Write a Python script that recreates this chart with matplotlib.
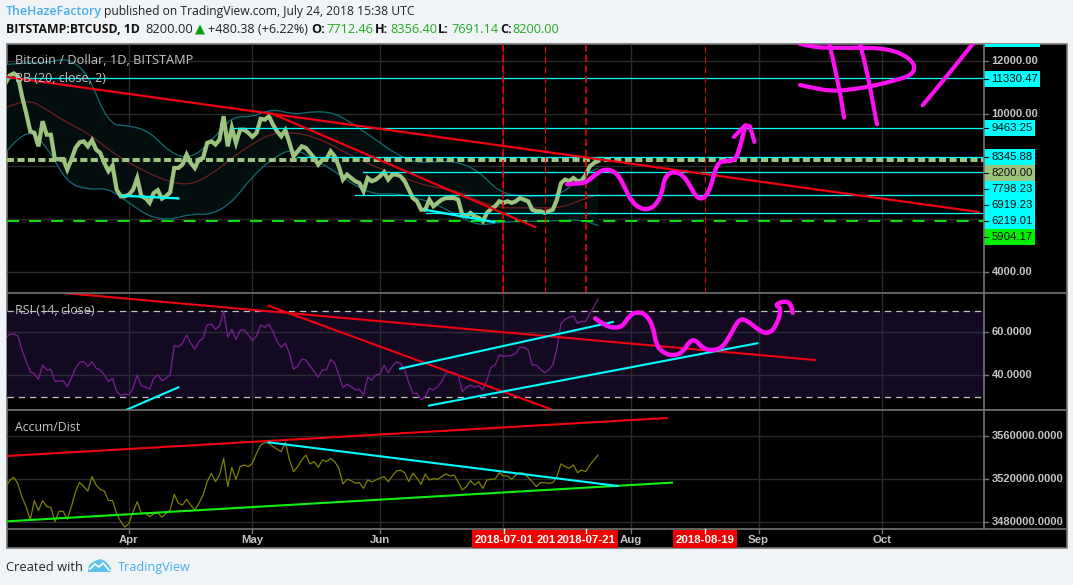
import numpy as np
import pandas as pd
import matplotlib
matplotlib.use("Agg")
from matplotlib import pyplot as plt
from matplotlib.patches import Rectangle, Polygon, PathPatch
from matplotlib.path import Path

W = 1073
H = 585

plt.rcParams['font.family'] = ['Liberation Sans', 'DejaVu Sans']

# daily values, 2018-03-02 .. 2018-07-24
close = [11160, 11440, 11520, 11410, 10660, 10030, 9330, 9270, 8760, 9710,
         9200, 9200, 8260, 8280, 8280, 7880, 8260, 8700, 8910, 8950,
         8760, 8990, 8640, 8510, 8130, 7820, 8030, 7120, 6870, 6870,
         6930, 7120, 7560, 6870, 6800, 6620, 6990, 7100, 6780, 6870,
         7020, 7940, 7940, 8070, 8450, 8130, 7940, 8260, 8320, 8890,
         8950, 8830, 9010, 9900, 8760, 9460, 8890, 9390, 9390, 9270,
         9120, 9270, 9800, 9770, 9900, 9580, 9330, 9140, 9370, 8890,
         8380, 8570, 8760, 8700, 8510, 8320, 8070, 8260, 8280, 8570,
         8380, 8000, 7500, 7690, 7560, 7440, 7370, 7060, 7560, 7440,
         7500, 7630, 7780, 7500, 7690,
         7690, 7630, 7440, 7120, 6800, 6680, 6360, 6360, 6740, 6490,
         6620, 6740, 6800, 6800, 6800, 6740, 6170, 6110, 6240, 6110,
         6050, 5920, 6240, 6390, 6490, 6680, 6620, 6680, 6620, 6680,
         6800, 6740, 6680, 6360, 6300, 6300, 6240, 6300, 6360, 6740,
         7370, 7500, 7440, 7560, 7440, 7440, 7690, 8000, 8130, 8200]

rsi = [57.2, 59.1, 59.2, 58.3, 51.8, 46.4, 41.7, 40.7, 38.1, 44.8,
       42.5, 42.8, 37.1, 37.4, 37.4, 34.7, 38.6, 43.3, 46.0, 46.4,
       44.0, 46.4, 43.3, 42.5, 40.2, 37.1, 38.6, 32.4, 30.7, 31.3,
       30.9, 34.0, 40.2, 35.0, 34.7, 33.5, 38.6, 40.2, 37.5, 38.6,
       40.2, 53.8, 53.3, 54.9, 58.8, 54.9, 52.1, 55.7, 57.2, 63.4,
       63.9, 61.4, 62.9, 69.9, 57.7, 61.4, 56.7, 60.8, 61.1, 58.8,
       56.1, 58.3, 63.4, 62.3, 63.7, 60.3, 55.7, 53.0, 54.9, 50.2,
       42.8, 44.3, 47.6, 47.1, 44.3, 41.7, 39.1, 42.5, 42.5, 47.4,
       45.6, 40.2, 34.3, 35.8, 34.7, 33.2, 33.5, 30.7, 39.1, 37.8,
       40.2, 40.6, 44.8, 41.2, 44.3,
       46.2, 45.6, 42.5, 36.6, 31.6, 31.6, 28.5, 30.1, 34.0, 33.2,
       34.7, 37.1, 40.9, 41.4, 41.2, 40.2, 32.4, 34.3, 35.5, 34.4,
       35.2, 33.2, 37.8, 43.7, 44.8, 49.5, 48.7, 49.1, 49.1, 50.2,
       53.0, 53.0, 51.8, 44.8, 44.8, 42.8, 41.2, 42.5, 44.8, 52.6,
       64.2, 66.0, 67.0, 67.6, 64.2, 65.1, 65.0, 68.8, 71.9, 75.5]

# accum/dist in thousands
accdist = [3512.6, 3518.8, 3521.9, 3515.7, 3503.3, 3494.6, 3482.2, 3500.2, 3490.9, 3500.2,
           3494.6, 3494.0, 3480.6, 3490.2, 3490.2, 3482.8, 3494.6, 3508.5, 3517.2, 3513.2,
           3509.1, 3522.5, 3514.7, 3510.7, 3509.1, 3500.2, 3500.2, 3487.8, 3480.6, 3475.4,
           3479.1, 3489.9, 3499.2, 3488.4, 3488.4, 3485.3, 3487.8, 3489.0, 3484.7, 3488.4,
           3491.5, 3506.0, 3497.7, 3496.1, 3501.4, 3496.1, 3491.5, 3497.7, 3505.4, 3517.8,
           3525.6, 3517.8, 3524.0, 3539.5, 3513.2, 3530.9, 3520.0, 3531.8, 3533.3, 3531.8,
           3534.9, 3544.2, 3551.9, 3554.1, 3553.5, 3550.4, 3547.9, 3545.7, 3554.4, 3538.0,
           3527.1, 3531.8, 3538.0, 3542.6, 3534.3, 3536.4, 3531.2, 3538.0, 3536.4, 3539.5,
           3536.4, 3530.2, 3515.7, 3520.0, 3518.8, 3516.3, 3516.9, 3511.6, 3519.4, 3517.5,
           3519.4, 3520.9, 3522.5, 3517.8, 3523.1,
           3527.8, 3528.4, 3526.2, 3517.8, 3525.6, 3520.9, 3515.3, 3525.0, 3519.4, 3520.6,
           3520.0, 3522.5, 3525.0, 3523.1, 3524.0, 3517.8, 3510.1, 3513.2, 3518.8, 3514.7,
           3517.8, 3511.6, 3519.4, 3520.0, 3520.3, 3526.2, 3523.1, 3523.1, 3520.0, 3524.0,
           3526.2, 3525.6, 3521.9, 3517.8, 3513.2, 3516.9, 3516.9, 3516.3, 3516.9, 3522.5,
           3534.3, 3531.8, 3530.2, 3533.3, 3526.2, 3528.7, 3527.1, 3533.3, 3538.0, 3542.6]

# bollinger bands, every 5 days and the last day
bb_days = [-30, -25, -20, -15, -10, -5, 0, 5, 10, 15, 20, 25, 30, 35, 40, 45, 50, 55, 60, 65,
           70, 75, 80, 85, 90, 95, 100, 105, 110, 114]
bb_upper = [11860, 11920, 11920, 12110, 11540, 9580, 9550, 9330, 8510, 8280,
            8950, 9900, 9870, 10190, 9960, 10090, 10030, 9550, 9010, 8450,
            8130, 8190, 8170, 7820, 7020, 6870, 6870, 6930, 7630, 7940]
bb_lower = [8510, 9520, 8760, 7370, 7120, 7180, 6620, 6080, 5980, 6200,
            6170, 6620, 7630, 8320, 8700, 8260, 7820, 7250, 6930, 6990,
            6800, 6550, 6110, 5760, 5880, 5920, 5920, 5960, 5980, 5760]
bb_basis = [10210, 10590, 10150, 9650, 9270, 8640, 8130, 7730, 7400, 7300,
            7690, 8320, 8860, 9270, 9290, 9120, 8760, 8320, 7980, 7690,
            7370, 7180, 7060, 6680, 6430, 6430, 6430, 6430, 6740, 6930]

price_ticks = [4000, 6000, 8000, 10000, 12000]
rsi_ticks = [40, 60]
ad_ticks = [3480, 3520, 3560]
months = ['2018-04-01', '2018-05-01', '2018-06-01', '2018-07-01',
          '2018-08-01', '2018-09-01', '2018-10-01']
month_labels = ['Apr', 'May', 'Jun', None, 'Aug', 'Sep', 'Oct']
marked_dates = ['2018-07-01', '2018-07-11', '2018-07-21', '2018-08-19']

# horizontal drawings: level, first day
cyan_levels = [11330.47, 9463.25, 8345.88, 7798.23, 6919.23, 6219.01]
cyan_starts = [-29.6, 25.1, 40.8, 56.8, 54.9, 72.2]
last_level = 8231
support_level = 5920

# trend lines, days since Apr 1
red_a_days = [-29.6, 206.5]
red_a_vals = [11386, 6273]
red_b_days = [35.0, 98.7]
red_b_vals = [9985, 5705]
cyan_a_days = [-1.7, 12.0]
cyan_a_vals = [6890, 6790]
cyan_b_days = [72.2, 88.7]
cyan_b_vals = [6348, 5894]

rsi_red_a_days = [-14.8, 166.8]
rsi_red_a_vals = [78.1, 47.1]
rsi_red_b_days = [33.9, 102.6]
rsi_red_b_vals = [72.4, 24.2]
rsi_cyan_a_days = [-0.7, 12.0]
rsi_cyan_a_vals = [23.9, 34.4]
rsi_cyan_b_days = [65.9, 117.6]
rsi_cyan_b_vals = [43.1, 64.8]
rsi_cyan_c_days = [72.9, 152.7]
rsi_cyan_c_vals = [25.9, 54.9]

ad_red_days = [-29.6, 130.7]
ad_red_vals = [3541.7, 3577.0]
ad_cyan_days = [33.9, 118.8]
ad_cyan_vals = [3554.4, 3513.8]
ad_green_days = [-29.6, 132.0]
ad_green_vals = [3480.9, 3516.9]

# magenta pen strokes
pen_days = [106.5, 108.6, 110.7, 112.3, 113.8, 115.4, 117.5, 119.1, 120.6, 122.2,
            124.3, 126.4, 128.4, 129.7, 130.0, 131.1, 132.6, 134.7, 136.3, 137.8,
            139.4, 141.0, 142.0, 143.0, 144.6, 147.2, 148.3, 149.3, 149.8]
pen_vals = [7325, 7350, 7375, 7540, 7750, 7880, 7855, 7630, 7160, 6655,
            6400, 6365, 6590, 7100, 7475, 7730, 7805, 7665, 7285, 6845,
            6755, 7035, 7600, 8105, 8210, 8210, 8610, 9245, 9520]
arrow_days = [147.0, 149.8, 150.9, 152.0]
arrow_vals = [9115, 9560, 9520, 8925]
curve_days = [162.9, 166.0, 170.2, 178.5, 183.7, 187.9, 190.5, 191.0, 190.0, 186.8,
              180.6, 174.3, 170.2, 166.0, 163.1]
curve_vals = [12650, 12525, 12485, 12500, 12460, 12270, 11955, 11705, 11450, 11285,
              11035, 10885, 10860, 10985, 11085]
stem_a_days = [170.2, 172.3, 173.8]
stem_a_vals = [12650, 11260, 9850]
stem_b_days = [177.7, 179.5, 181.1, 181.8]
stem_b_vals = [12650, 11515, 10125, 9595]
slash_days = [192.9, 198.3, 205.1]
slash_vals = [10315, 11325, 12650]

rsi_pen_days = [113.3, 115.4, 118.0, 120.1, 121.7, 123.7, 125.8, 127.4, 128.1, 130.0,
                132.6, 134.7, 136.3, 137.8, 139.4, 141.5, 144.1, 146.2, 148.3, 150.3,
                153.0, 155.0, 157.1, 158.7, 156.9, 159.2, 160.8, 161.3]
rsi_pen_vals = [66.5, 63.4, 61.9, 62.9, 68.1, 69.6, 68.1, 62.6, 54.1, 50.2,
                49.0, 51.0, 56.1, 56.4, 52.6, 51.5, 52.6, 58.8, 66.5, 65.4,
                61.1, 59.2, 61.9, 71.2, 72.7, 74.6, 73.5, 69.1]

BG = '#f1f4f7'
GRID = '#2b2b2b'
EDGE = '#757575'
CYAN = '#00ffff'
RED = '#f00010'
MAGENTA = '#ff10f0'
LABEL = '#c4c4c4'

base = pd.Timestamp('2018-04-01')
days = (pd.date_range('2018-03-02', periods=len(close)) - base).days.values
month_days = [(pd.Timestamp(m) - base).days for m in months]
mark_days = [(pd.Timestamp(m) - base).days for m in marked_dates]
XLIM = (-29.65, 207.8)


def pane(top, bottom, ylim):
    ax = fig.add_axes([7 / W, 1 - bottom / H, 977 / W, (bottom - top) / H])
    ax.set_facecolor('none')
    ax.set_xlim(*XLIM)
    ax.set_ylim(*ylim)
    ax.set_xticks([])
    ax.set_yticks([])
    for s in ax.spines.values():
        s.set_visible(False)
    ax.vlines(month_days, ylim[0], ylim[1], color=GRID, lw=1, zorder=1)
    return ax


def smooth(ax, xs, ys, color, lw, zorder):
    # quadratic curve through the midpoints, rounder look for the freehand strokes
    pts = np.column_stack([xs, ys])
    verts = [pts[0]]
    codes = [Path.MOVETO]
    for i in range(1, len(pts) - 1):
        verts += [pts[i], (pts[i] + pts[i + 1]) / 2]
        codes += [Path.CURVE3, Path.CURVE3]
    verts.append(pts[-1])
    codes.append(Path.LINETO)
    ax.add_patch(PathPatch(Path(verts, codes), fc='none', ec=color, lw=lw, zorder=zorder,
                           capstyle='round', joinstyle='round'))


fig = plt.figure(figsize=(W / 100, H / 100), dpi=100, facecolor=BG)

# pixel layer for the frame, axis tags and header
back = fig.add_axes([0, 0, 1, 1], zorder=0)
back.set_xlim(0, W)
back.set_ylim(H, 0)
back.axis('off')
back.add_patch(Rectangle((6.5, 43.5), 1060, 504.5, fc='black', ec=EDGE, lw=1.2))

top = fig.add_axes([0, 0, 1, 1], zorder=5)
top.set_xlim(0, W)
top.set_ylim(H, 0)
top.axis('off')
top.patch.set_alpha(0)

# main pane
ax1 = pane(43.5, 293, (3205, 12655))
ax1.hlines(price_ticks, *XLIM, color=GRID, lw=1, zorder=1)
ax1.fill(np.r_[bb_days, bb_days[::-1]], np.r_[bb_upper, bb_lower[::-1]], color='#040e0f', lw=0, zorder=1.5)
smooth(ax1, bb_days, bb_upper, '#0f6d74', 0.9, 2)
smooth(ax1, bb_days, bb_lower, '#0f6d74', 0.9, 2)
smooth(ax1, bb_days, bb_basis, '#6e2020', 0.9, 2)
ax1.plot(days, close, color='#9cc47f', lw=3.0, solid_joinstyle='miter', zorder=3)
ax1.plot(XLIM, [last_level, last_level], color='#9cc47f', lw=2.9, dashes=(1.75, 0.85), zorder=3)
ax1.plot(XLIM, [support_level, support_level], color='#10d810', lw=1.5, dashes=(5.8, 4.8), zorder=3)
for level, start in zip(cyan_levels, cyan_starts):
    ax1.plot([start, XLIM[1]], [level, level], color=CYAN, lw=0.9, zorder=3.5)
ax1.plot(cyan_a_days, cyan_a_vals, color=CYAN, lw=1.7, zorder=3.6)
ax1.plot(cyan_b_days, cyan_b_vals, color=CYAN, lw=1.7, zorder=3.6)
ax1.plot(red_a_days, red_a_vals, color=RED, lw=1.6, zorder=4)
ax1.plot(red_b_days, red_b_vals, color=RED, lw=1.6, zorder=4)
ax1.vlines(mark_days[0], 3205, 12655, color=RED, lw=1.2, linestyles=(0, (4.2, 2.1)), zorder=3.5)
ax1.vlines(mark_days[1], 3205, 12655, color=RED, lw=0.8, linestyles=(0, (6, 3)), zorder=3.5)
ax1.vlines(mark_days[2], 3205, 12655, color=RED, lw=1.2, linestyles=(0, (4.2, 2.1)), zorder=3.5)
ax1.vlines(mark_days[3], 3205, 12655, color='#c81010', lw=0.8, linestyles=(0, (6, 3)), zorder=3.5)
smooth(ax1, pen_days, pen_vals, MAGENTA, 3.2, 6)
ax1.plot(arrow_days, arrow_vals, color=MAGENTA, lw=3.0, solid_capstyle='round', solid_joinstyle='round', zorder=6)
smooth(ax1, curve_days, curve_vals, MAGENTA, 3.0, 6)
smooth(ax1, stem_a_days, stem_a_vals, MAGENTA, 3.0, 6)
smooth(ax1, stem_b_days, stem_b_vals, MAGENTA, 3.0, 6)
smooth(ax1, slash_days, slash_vals, MAGENTA, 3.0, 6)

# rsi pane
rsi_lim = (60 - (410.3 - 332.3) / 2.15, 60 + (332.3 - 293) / 2.15)
ax2 = pane(293, 410.3, rsi_lim)
ax2.axhspan(30, 70, color='#130a22', lw=0, zorder=0.5)
ax2.hlines(rsi_ticks, *XLIM, color='#2e2a38', lw=1, zorder=1)
ax2.plot(XLIM, [70, 70], color='#c8c0cc', lw=0.9, dashes=(5, 4), zorder=2)
ax2.plot(XLIM, [30, 30], color='#c8c0cc', lw=0.9, dashes=(5, 4), zorder=2)
ax2.plot(days, rsi, color='#7c1f90', lw=0.9, zorder=3)
ax2.plot(rsi_red_a_days, rsi_red_a_vals, color=RED, lw=1.5, zorder=4)
ax2.plot(rsi_red_b_days, rsi_red_b_vals, color=RED, lw=1.5, zorder=4)
ax2.plot(rsi_cyan_a_days, rsi_cyan_a_vals, color=CYAN, lw=1.5, zorder=4)
ax2.plot(rsi_cyan_b_days, rsi_cyan_b_vals, color=CYAN, lw=1.5, zorder=4)
ax2.plot(rsi_cyan_c_days, rsi_cyan_c_vals, color=CYAN, lw=1.5, zorder=4)
smooth(ax2, rsi_pen_days, rsi_pen_vals, MAGENTA, 3.2, 6)

# accum/dist pane, 43 px per 40000
ad_lim = (3520 - (529 - 479.3) * 40 / 43, 3520 + (479.3 - 410.3) * 40 / 43)
ax3 = pane(410.3, 529, ad_lim)
ax3.hlines(ad_ticks, *XLIM, color=GRID, lw=1, zorder=1)
ax3.plot(days, accdist, color='#808000', lw=0.9, zorder=3)
ax3.plot(ad_red_days, ad_red_vals, color=RED, lw=1.5, zorder=4)
ax3.plot(ad_green_days, ad_green_vals, color='#10f010', lw=1.5, zorder=4)
ax3.plot(ad_cyan_days, ad_cyan_vals, color=CYAN, lw=1.5, zorder=4.5)

# frame lines
for y in (293, 410.3, 529):
    top.plot([7, 1067], [y, y], color=EDGE, lw=1.2)
top.plot([984, 984], [43.5, 529], color=EDGE, lw=1.2)

# axis labels
for v in price_ticks:
    y = H - ax1.transData.transform((0, v))[1]
    if v == 6000 or v == 8000:
        continue
    top.plot([984, 988], [y, y], color=EDGE, lw=1)
    top.text(991.5, y, '%.2f' % v, color=LABEL, fontsize=8, weight='bold', va='center')
for v in rsi_ticks:
    y = H - ax2.transData.transform((0, v))[1]
    top.plot([984, 988], [y, y], color=EDGE, lw=1)
    top.text(991.5, y, '%.4f' % v, color=LABEL, fontsize=8, weight='bold', va='center')
for v in ad_ticks:
    y = H - ax3.transData.transform((0, v))[1]
    top.plot([984, 988], [y, y], color=EDGE, lw=1)
    top.text(991.5, y, '%.4f' % (v * 1000), color=LABEL, fontsize=8, weight='bold', va='center')

# price tags, pushed apart like on the original
tag_text = ['11330.47', '9463.25', '8345.88', '8200.00', '7798.23', '6919.23', '6219.01', '5904.17']
tag_top = [71, 120, 149, 165, 181, 197, 213, 229]
tag_color = [CYAN, CYAN, CYAN, '#9cc47f', CYAN, CYAN, CYAN, '#00f000']
tag_width = [56, 51, 51, 51, 51, 51, 51, 51]
top.add_patch(Rectangle((984, 44), 56, 3.2, fc=CYAN, ec='none'))
for t, y, c, w in zip(tag_text, tag_top, tag_color, tag_width):
    top.add_patch(Rectangle((984, y), w, 16, fc=c, ec='none'))
    top.plot([984, 988], [y + 8, y + 8], color='#101010', lw=0.8)
    top.text(991.5, y + 8, t, color='#101010', fontsize=8.2, va='center')

# time axis
for d, lab in zip(month_days, month_labels):
    px = 7 + (d - XLIM[0]) / (XLIM[1] - XLIM[0]) * 977
    if lab:
        top.text(px, 540, lab, color=LABEL, fontsize=8.2, weight='bold', ha='center', va='center')
        top.plot([px, px], [529, 533], color=EDGE, lw=1)
top.add_patch(Rectangle((472, 529.5), 146, 18, fc='#f00000', ec='none'))
top.add_patch(Rectangle((673, 529.5), 64, 18, fc='#f00000', ec='none'))
top.text(504, 540, '2018-07-01', color='white', fontsize=8.2, weight='bold', ha='center', va='center')
top.text(537, 540, '201', color='white', fontsize=8.2, weight='bold', ha='left', va='center')
top.text(586, 540, '2018-07-21', color='white', fontsize=8.2, weight='bold', ha='center', va='center',
         bbox=dict(fc='#f00000', ec='none', pad=1))
top.text(705, 540, '2018-08-19', color='white', fontsize=8.2, weight='bold', ha='center', va='center')
for px in (504, 586, 705):
    top.plot([px, px], [529, 533], color='white', lw=1)

# pane titles
top.text(15, 60.5, 'Bitcoin / Dollar, 1D, BITSTAMP', color=LABEL, fontsize=9.2, family='Open Sans', va='center')
top.text(15, 78, 'BB (20, close, 2)', color=LABEL, fontsize=9, family='Open Sans', va='center')
top.text(15, 310, 'RSI (14, close)', color=LABEL, fontsize=9, family='Open Sans', va='center')
top.text(15, 427.5, 'Accum/Dist', color=LABEL, fontsize=8.8, family='Open Sans', va='center')

# header
top.text(6, 11.5, 'TheHazeFactory', color='#46aee6', fontsize=8.9, family='Open Sans', weight='semibold', va='center')
top.text(104, 11.5, 'published on TradingView.com, July 24, 2018 15:38 UTC', color='#222222', fontsize=8.75,
         family='Open Sans', va='center')
top.text(6, 29.5, 'BITSTAMP:BTCUSD, 1D', color='#111111', fontsize=8.8, family='Open Sans', weight='bold', va='center')
top.text(145, 29.5, '8200.00', color='#222222', fontsize=9.3, family='Open Sans', va='center')
top.add_patch(Polygon([[195, 34.5], [205, 34.5], [200, 24.5]], fc='#08a008', ec='none'))
top.text(208, 29.5, '+480.38 (+6.22%)', color='#222222', fontsize=9.1, family='Open Sans', va='center')
for px, t in [(311, 'O:'), (375, 'H:'), (438, 'L:'), (500, 'C:')]:
    top.text(px, 29.5, t, color='#111111', fontsize=9.1, family='Open Sans', weight='bold', va='center')
for px, t in [(326, '7712.46'), (390, '8356.40'), (451, '7691.14'), (512, '8200.00')]:
    top.text(px, 29.5, t, color='#22aa22', fontsize=9.2, family='Open Sans', va='center')

# footer
top.text(6, 567.5, 'Created with', color='#222222', fontsize=9.3, family='Open Sans', va='center')
top.add_patch(Polygon([[88, 572], [89, 565], [93, 562], [97, 560], [101, 559], [105, 561], [108, 564],
                       [111, 568], [110, 572]], fc='#5cc3ea', ec='none'))
top.plot([90, 95, 99, 103, 109], [569, 564, 567, 563, 570], color='white', lw=1.2)
top.text(118, 567.5, 'TradingView', color='#46aee6', fontsize=9.1, family='Open Sans', va='center')

fig.savefig('out.png', dpi=100, facecolor=BG)
